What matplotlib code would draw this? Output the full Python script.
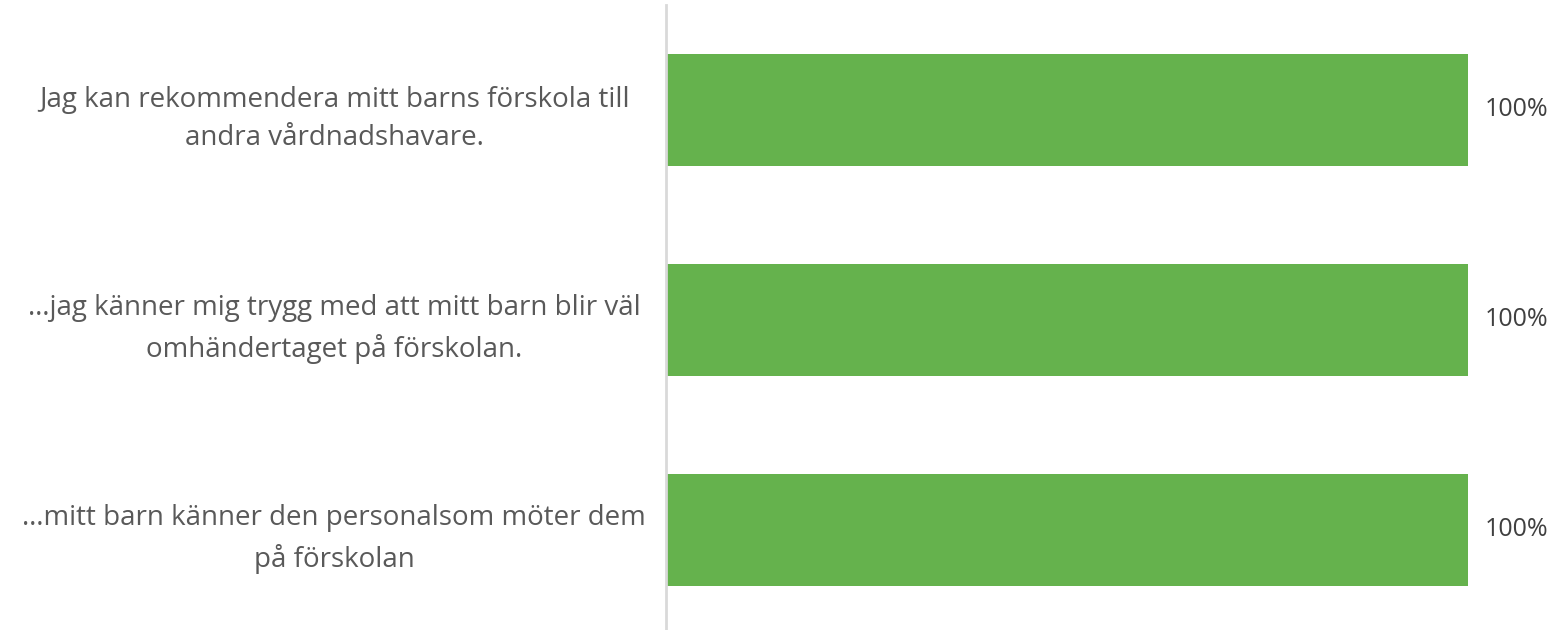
import matplotlib.pyplot as plt

# data
categories = [
    'Jag kan rekommendera mitt barns förskola till\nandra vårdnadshavare.',
    '…jag känner mig trygg med att mitt barn blir väl\nomhändertaget på förskolan.',
    '…mitt barn känner den personalsom möter dem\npå förskolan',
]
values = [1.0, 1.0, 1.0]
value_labels = ['100%', '100%', '100%']

plt.rcParams['font.family'] = ['Open Sans', 'DejaVu Sans']

fig = plt.figure(figsize=(15.55, 6.3), dpi=100)
ax = fig.add_axes([666 / 1555, -5 / 630, (1468 - 666) / 1555, 630 / 630])

y = list(range(len(categories)))
ax.barh(y, values, height=0.53, color='#65B24D')
ax.set_xlim(0, 1)
ax.set_ylim(len(categories) - 0.5, -0.5)

for yi, v, lab in zip(y, values, value_labels):
    ax.text(v + 0.021, yi, lab, va='center', ha='left', fontsize=18, color='#404040')

ax.set_yticks(y)
ax.set_yticklabels(categories, fontsize=20, color='#595959', ha='center', linespacing=1.5)
ax.tick_params(axis='y', length=0, pad=239)
ax.set_xticks([])

for s in ['top', 'right', 'bottom']:
    ax.spines[s].set_visible(False)
ax.spines['left'].set_color('#D9D9D9')
ax.spines['left'].set_linewidth(2)

fig.savefig('out.png', dpi=100)
